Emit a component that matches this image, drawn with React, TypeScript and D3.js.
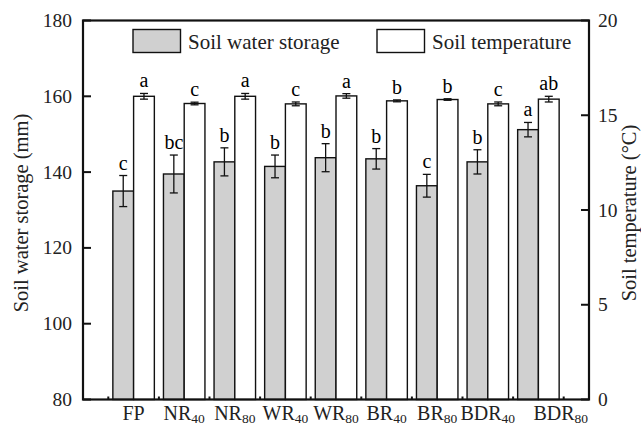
import React, { useRef, useEffect } from 'react';
import * as d3 from 'd3';

const groups = ['FP', 'NR40', 'NR80', 'WR40', 'WR80', 'BR40', 'BR80', 'BDR40', 'BDR80'];
const labelMain = ['FP', 'NR', 'NR', 'WR', 'WR', 'BR', 'BR', 'BDR', 'BDR'];
const labelSub = ['', '40', '80', '40', '80', '40', '80', '40', '80'];
const waterValues = [135.0, 139.5, 142.7, 141.5, 143.8, 143.5, 136.4, 142.7, 151.2];
const waterErr = [4.1, 5.0, 3.7, 3.0, 3.7, 2.7, 3.0, 3.2, 1.9];
const waterLetters = ['c', 'bc', 'b', 'b', 'b', 'b', 'c', 'b', 'a'];
const tempValues = [16.0, 15.62, 16.0, 15.6, 16.02, 15.76, 15.83, 15.6, 15.85];
const tempErr = [0.15, 0.07, 0.15, 0.1, 0.12, 0.05, 0.04, 0.1, 0.15];
const tempLetters = ['a', 'c', 'a', 'c', 'a', 'b', 'b', 'c', 'ab'];
const leftTicks = [80, 100, 120, 140, 160, 180];
const rightTicks = [0, 5, 10, 15, 20];

const App: React.FC = () => {
  const svgRef = useRef<SVGSVGElement | null>(null);

  useEffect(() => {
    if (!svgRef.current) return;
    const W = 641;
    const H = 428;
    const left = 83;
    const right = 589;
    const top = 20.5;
    const bottom = 399.5;
    const font = '"Liberation Serif", "Times New Roman", serif';

    const svg = d3.select(svgRef.current);
    svg.selectAll('*').remove();
    svg.attr('width', W).attr('height', H).style('background', '#fff');

    const x = d3.scaleLinear().domain([0, 10]).range([left, right]);
    const yL = d3.scaleLinear().domain([80, 180]).range([bottom, top]);
    const yR = d3.scaleLinear().domain([0, 20]).range([bottom, top]);
    const bw = (x(1) - x(0)) * 0.41;

    // bars
    const g = svg.append('g');
    groups.forEach((_, i) => {
      const cx = x(i + 1);
      // water
      g.append('rect')
        .attr('x', cx - bw)
        .attr('y', yL(waterValues[i]))
        .attr('width', bw)
        .attr('height', bottom - yL(waterValues[i]))
        .attr('fill', '#d0d0d0')
        .attr('stroke', '#111')
        .attr('stroke-width', 1.4);
      // temperature
      g.append('rect')
        .attr('x', cx)
        .attr('y', yR(tempValues[i]))
        .attr('width', bw)
        .attr('height', bottom - yR(tempValues[i]))
        .attr('fill', '#fff')
        .attr('stroke', '#111')
        .attr('stroke-width', 1.4);

      const err = (ex: number, yTop: number, yBot: number) => {
        g.append('line').attr('x1', ex).attr('x2', ex).attr('y1', yTop).attr('y2', yBot)
          .attr('stroke', '#111').attr('stroke-width', 1.3);
        [yTop, yBot].forEach((yy) => {
          g.append('line').attr('x1', ex - 4).attr('x2', ex + 4).attr('y1', yy).attr('y2', yy)
            .attr('stroke', '#111').attr('stroke-width', 1.3);
        });
      };
      const wx = cx - bw / 2;
      const tx = cx + bw / 2;
      err(wx, yL(waterValues[i] + waterErr[i]), yL(waterValues[i] - waterErr[i]));
      err(tx, yR(tempValues[i] + tempErr[i]), yR(tempValues[i] - tempErr[i]));

      g.append('text')
        .attr('x', wx)
        .attr('y', yL(waterValues[i] + waterErr[i]) - 6)
        .attr('text-anchor', 'middle')
        .attr('font-family', font)
        .attr('font-size', 20)
        .text(waterLetters[i]);
      g.append('text')
        .attr('x', tx)
        .attr('y', yR(tempValues[i] + tempErr[i]) - 6)
        .attr('text-anchor', 'middle')
        .attr('font-family', font)
        .attr('font-size', 20)
        .text(tempLetters[i]);
    });

    // frame
    svg.append('rect')
      .attr('x', left).attr('y', top)
      .attr('width', right - left).attr('height', bottom - top)
      .attr('fill', 'none').attr('stroke', '#111').attr('stroke-width', 2.2);

    // left axis
    leftTicks.forEach((t) => {
      svg.append('line').attr('x1', left).attr('x2', left + 8).attr('y1', yL(t)).attr('y2', yL(t))
        .attr('stroke', '#111').attr('stroke-width', 2);
      svg.append('text')
        .attr('x', 72).attr('y', yL(t) + 6.5)
        .attr('text-anchor', 'end')
        .attr('font-family', font).attr('font-size', 19.5).attr('fill', '#222')
        .text(t);
    });

    // right axis
    rightTicks.forEach((t) => {
      svg.append('line').attr('x1', right - 8).attr('x2', right).attr('y1', yR(t)).attr('y2', yR(t))
        .attr('stroke', '#111').attr('stroke-width', 2);
      svg.append('text')
        .attr('x', 598).attr('y', yR(t) + 6.5)
        .attr('text-anchor', 'start')
        .attr('font-family', font).attr('font-size', 19.5).attr('fill', '#222')
        .text(t);
    });

    // x minor ticks
    d3.range(0, 10).forEach((k) => {
      svg.append('line').attr('x1', x(k + 0.5)).attr('x2', x(k + 0.5)).attr('y1', bottom).attr('y2', bottom - 3)
        .attr('stroke', '#111').attr('stroke-width', 2);
    });

    // x labels (last one kept inside the right axis)
    groups.forEach((_, i) => {
      const last = i === groups.length - 1;
      const t = svg.append('text')
        .attr('x', last ? right - 1 : x(i + 1))
        .attr('y', 420)
        .attr('text-anchor', last ? 'end' : 'middle')
        .attr('font-family', font)
        .attr('font-size', 20)
        .attr('fill', '#222');
      t.append('tspan').text(labelMain[i]);
      if (labelSub[i]) {
        t.append('tspan').attr('font-size', 13.5).attr('dy', 3).text(labelSub[i]);
      }
    });

    // axis titles
    svg.append('text')
      .attr('transform', `translate(28, ${(top + bottom) / 2 + 3}) rotate(-90)`)
      .attr('text-anchor', 'middle')
      .attr('font-family', font).attr('font-size', 20.5).attr('fill', '#222')
      .text('Soil water storage (mm)');
    svg.append('text')
      .attr('transform', `translate(636, ${(top + bottom) / 2 + 3}) rotate(-90)`)
      .attr('text-anchor', 'middle')
      .attr('font-family', font).attr('font-size', 20.5).attr('fill', '#222')
      .text('Soil temperature (°C)');

    // legend
    const legend = [
      { x: 133, fill: '#d0d0d0', label: 'Soil water storage' },
      { x: 377, fill: '#fff', label: 'Soil temperature' },
    ];
    legend.forEach((l) => {
      svg.append('rect')
        .attr('x', l.x).attr('y', 29.5).attr('width', 47.5).attr('height', 23)
        .attr('fill', l.fill).attr('stroke', '#111').attr('stroke-width', 1.4);
      svg.append('text')
        .attr('x', l.x + 55).attr('y', 48.5)
        .attr('font-family', font).attr('font-size', 21).attr('fill', '#222')
        .text(l.label);
    });
  }, []);

  return <svg ref={svgRef} style={{ position: 'absolute', left: 0, top: 0 }} />;
};

export default App;
